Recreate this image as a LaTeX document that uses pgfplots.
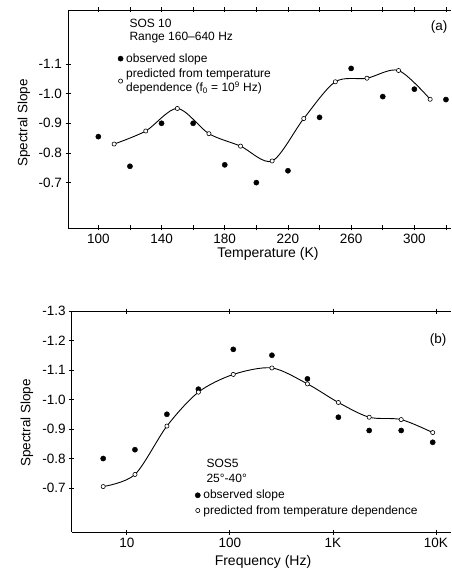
\documentclass[border=0pt]{standalone}
\usepackage{pgfplots}
\pgfplotsset{compat=1.18}
\usepackage{fontspec}
\setmainfont{Liberation Sans}
\pgfplotsset{
  panel/.style={
    scale only axis,
    axis x line*=box, axis y line*=left,
    axis line style={line width=0.8pt},
    tick align=center,
    major tick length=5pt, minor tick length=5pt,
    tick style={line width=0.8pt, black},
    tick label style={font=\fontsize{13.5}{15}\selectfont},
    clip=false,
    legend style={draw=none, fill=none, font=\fontsize{12}{14.5}\selectfont,
      cells={anchor=west, align=left}, row sep=2pt, column sep=1.5pt, inner sep=0pt,
      nodes={inner sep=1.5pt}},
    legend image code/.code={\draw[#1] plot coordinates {(0pt,0pt)};},
  },
  obs/.style={only marks, mark=*, mark size=2.6pt, black},
  pred/.style={only marks, mark=*, mark size=2.1pt, mark options={fill=white, draw=black, line width=0.6pt}, black},
}
\begin{document}
\begin{tikzpicture}[x=1pt,y=1pt]
\useasboundingbox (0,0) rectangle (451,569);
% ---------------- panel (a)
\begin{axis}[panel,
  at={(68pt,341pt)}, anchor=south west,
  width=383pt, height=218pt,
  xmin=80.8, xmax=323.2, ymin=-1.282, ymax=-0.547, y dir=reverse,
  xtick={100,140,180,220,260,300}, xticklabels={100,140,180,220,260,300},
  minor xtick={120,160,200,240,280,320},
  ytick={-1.1,-1.0,-0.9,-0.8,-0.7}, yticklabels={-1.1,-1.0,-0.9,-0.8,-0.7},
  legend style={at={(axis description cs:0.13,0.808)}, anchor=north west},
]
\addplot[black, line width=0.9pt, smooth, forget plot] coordinates {
(110,-0.830)(130,-0.874)(150,-0.950)(170,-0.865)(190,-0.823)(210,-0.773)
(230,-0.916)(250,-1.040)(270,-1.052)(290,-1.078)(310,-0.981)};
\addplot[obs] coordinates {
(100,-0.855)(120,-0.755)(140,-0.900)(160,-0.900)(180,-0.760)(200,-0.700)
(220,-0.740)(240,-0.920)(260,-1.085)(280,-0.990)(300,-1.015)(320,-0.980)};
\addlegendentry{observed slope}
\addplot[pred] coordinates {
(110,-0.830)(130,-0.874)(150,-0.950)(170,-0.865)(190,-0.823)(210,-0.773)
(230,-0.916)(250,-1.040)(270,-1.052)(290,-1.078)(310,-0.981)};
\addlegendentry{predicted from temperature\\dependence (f\textsubscript{0} = 10\textsuperscript{9} Hz)}
\end{axis}
\node[anchor=west, font=\fontsize{12}{14}\selectfont] at (126,546) {SOS 10};
\node[anchor=west, font=\fontsize{12}{14}\selectfont] at (126,531) {Range 160--640 Hz};
\node[anchor=east, font=\fontsize{13.5}{15}\selectfont] at (451,542) {(a)};
\node[rotate=90, font=\fontsize{13.5}{15}\selectfont] at (24,446) {Spectral Slope};
\node[font=\fontsize{14}{16}\selectfont] at (268,315) {Temperature (K)};
% ---------------- panel (b)
\begin{axis}[panel,
  at={(71.7pt,36.7pt)}, anchor=south west,
  width=379.3pt, height=221.3pt,
  xmode=log, xmin=2.92, xmax=14000, ymin=-1.3, ymax=-0.55, y dir=reverse,
  xtick={10,100,1000,10000}, xticklabels={10,100,1K,10K}, xminorticks=false,
  ytick={-1.3,-1.2,-1.1,-1.0,-0.9,-0.8,-0.7}, yticklabels={-1.3,-1.2,-1.1,-1.0,-0.9,-0.8,-0.7},
  legend style={at={(axis description cs:0.325,0.198)}, anchor=north west},
]
\addplot[black, line width=0.9pt, smooth, forget plot] coordinates {
(5.9,-0.705)(12,-0.746)(24.5,-0.910)(49.5,-1.025)(108,-1.085)(256,-1.107)
(566,-1.053)(1130,-0.990)(2250,-0.940)(4600,-0.932)(9300,-0.888)};
\addplot[obs] coordinates {
(5.9,-0.800)(12,-0.830)(24.5,-0.950)(49.5,-1.035)(108,-1.170)(256,-1.150)
(566,-1.070)(1130,-0.940)(2250,-0.895)(4600,-0.895)(9300,-0.855)};
\addlegendentry{observed slope}
\addplot[pred] coordinates {
(5.9,-0.705)(12,-0.746)(24.5,-0.910)(49.5,-1.025)(108,-1.085)(256,-1.107)
(566,-1.053)(1130,-0.990)(2250,-0.940)(4600,-0.932)(9300,-0.888)};
\addlegendentry{predicted from temperature dependence}
\end{axis}
\node[anchor=west, font=\fontsize{12}{14}\selectfont] at (203,106) {SOS5};
\node[anchor=west, font=\fontsize{12}{14}\selectfont] at (203,91) {25°-40°};
\node[anchor=east, font=\fontsize{13.5}{15}\selectfont] at (450,229) {(b)};
\node[rotate=90, font=\fontsize{13.5}{15}\selectfont] at (27,146) {Spectral Slope};
\node[font=\fontsize{14}{16}\selectfont] at (263,7) {Frequency (Hz)};
\end{tikzpicture}
\end{document}
